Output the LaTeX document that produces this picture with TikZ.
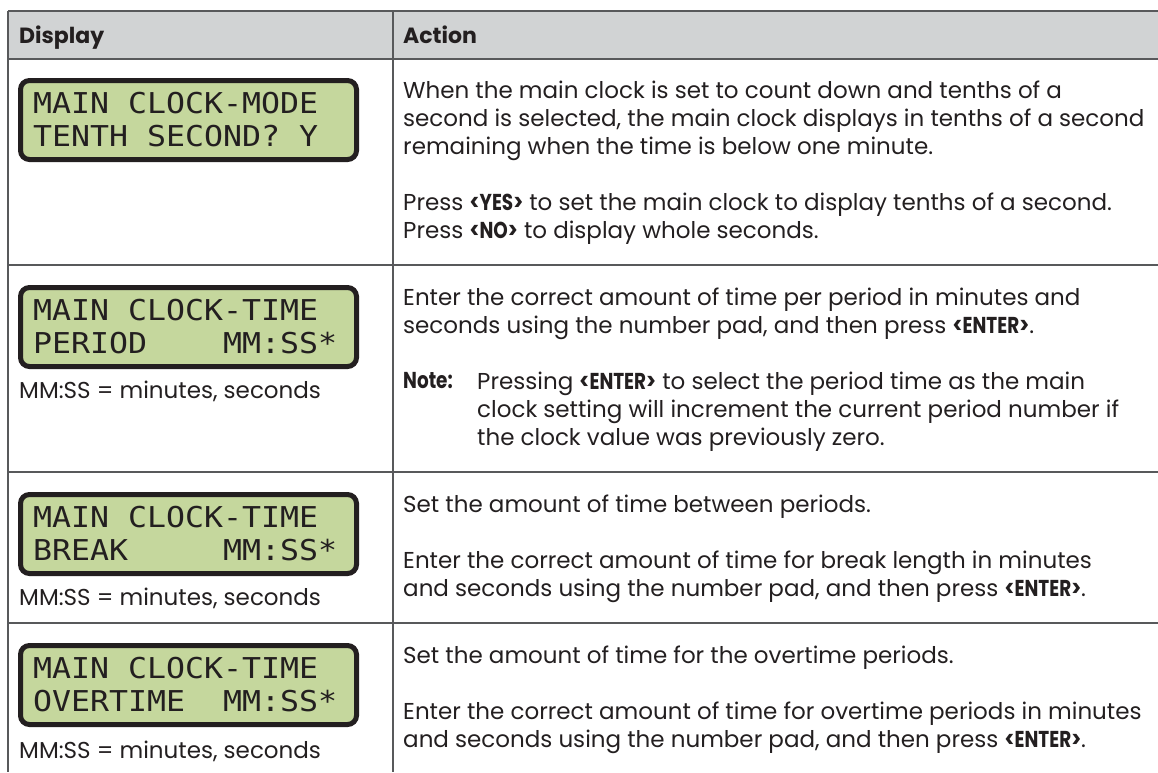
\documentclass[tikz,border=0pt]{standalone}
\usepackage{fontspec}
\setmainfont{Poppins}
\newfontfamily\keyfont[FakeStretch=0.8]{Poppins}
\newfontfamily\lcdfont[FakeStretch=1.1]{DejaVu Sans Mono}
\newcommand\lsp{\phantom{0}}
\newcommand\keyb[1]{{\keyfont\bfseries #1}}
\definecolor{rulegray}{HTML}{58595B}
\definecolor{headgray}{HTML}{D1D3D4}
\definecolor{lcdgreen}{HTML}{C5D79D}
\definecolor{inkdark}{HTML}{231F20}
\begin{document}
\begin{tikzpicture}[x=1pt,y=-1pt,
      rule/.style={draw=rulegray,line width=1.6pt},
      hdr/.style={font=\fontsize{22}{28}\selectfont\bfseries,text=inkdark,anchor=base west,inner sep=0pt},
      body/.style={font=\fontsize{23}{28}\selectfont,text=inkdark,anchor=north west,inner sep=0pt,align=left},
      lcd/.style={draw=inkdark,line width=5pt,fill=lcdgreen,rounded corners=9pt,
        minimum width=336pt,minimum height=79pt,text width=311pt,inner xsep=12.5pt,
        align=left,anchor=north west,text=inkdark,font=\lcdfont\fontsize{28.7}{33}\selectfont}]
      \useasboundingbox (0,0) rectangle (1158,772);
      % header band and grid
      \fill[headgray] (8,11) rectangle (1158,59);
      \draw[rule] (8,11)--(1158,11);
      \draw[rule] (8,59)--(1158,59);
      \draw[rule] (8,265)--(1158,265);
      \draw[rule] (8,472)--(1158,472);
      \draw[rule] (8,623)--(1158,623);
      \draw[rule] (8,11)--(8,772);
      \draw[rule] (393,11)--(393,772);
      \path (19,43) node[hdr] (hdisp) {Display};
      \path (403,43) node[hdr] (hact) {Action};
      % row 1
      \path (18,78) node[lcd] (lcdmode) {MAIN\lsp CLOCK-MODE\\TENTH\lsp SECOND?\lsp Y};
      \path (403,81) node[body] (modea) {When the main clock is set to count down and tenths of a\\
        second is selected, the main clock displays in tenths of a second\\
        remaining when the time is below one minute.};
      \path (403,193) node[body] (modeb) {Press \keyb{<YES>} to set the main clock to display tenths of a second.\\
        Press \keyb{<NO>} to display whole seconds.};
      % row 2
      \path (18,285) node[lcd] (lcdper) {MAIN\lsp CLOCK-TIME\\PERIOD\lsp\lsp\lsp\lsp MM:SS*};
      \path (19,398) node[body,anchor=base west] (keyper) {MM:SS = minutes, seconds};
      \path (403,288) node[body] (pera) {Enter the correct amount of time per period in minutes and\\
        seconds using the number pad, and then press \keyb{<ENTER>}.};
      \path (403,372) node[body] (notelbl) {\keyb{Note:}};
      \path (477,372) node[body] (noteb) {Pressing \keyb{<ENTER>} to select the period time as the main\\
        clock setting will increment the current period number if\\
        the clock value was previously zero.};
      % row 3
      \path (18,492) node[lcd] (lcdbrk) {MAIN\lsp CLOCK-TIME\\BREAK\lsp\lsp\lsp\lsp\lsp MM:SS*};
      \path (19,605) node[body,anchor=base west] (keybrk) {MM:SS = minutes, seconds};
      \path (403,495) node[body] (brka) {Set the amount of time between periods.};
      \path (403,551) node[body] (brkb) {Enter the correct amount of time for break length in minutes\\
        and seconds using the number pad, and then press \keyb{<ENTER>}.};
      % row 4
      \path (18,643) node[lcd] (lcdot) {MAIN\lsp CLOCK-TIME\\OVERTIME\lsp\lsp MM:SS*};
      \path (19,758) node[body,anchor=base west] (keyot) {MM:SS = minutes, seconds};
      \path (403,646) node[body] (ota) {Set the amount of time for the overtime periods.};
      \path (403,702) node[body] (otb) {Enter the correct amount of time for overtime periods in minutes\\
        and seconds using the number pad, and then press \keyb{<ENTER>}.};
\end{tikzpicture}
\end{document}
